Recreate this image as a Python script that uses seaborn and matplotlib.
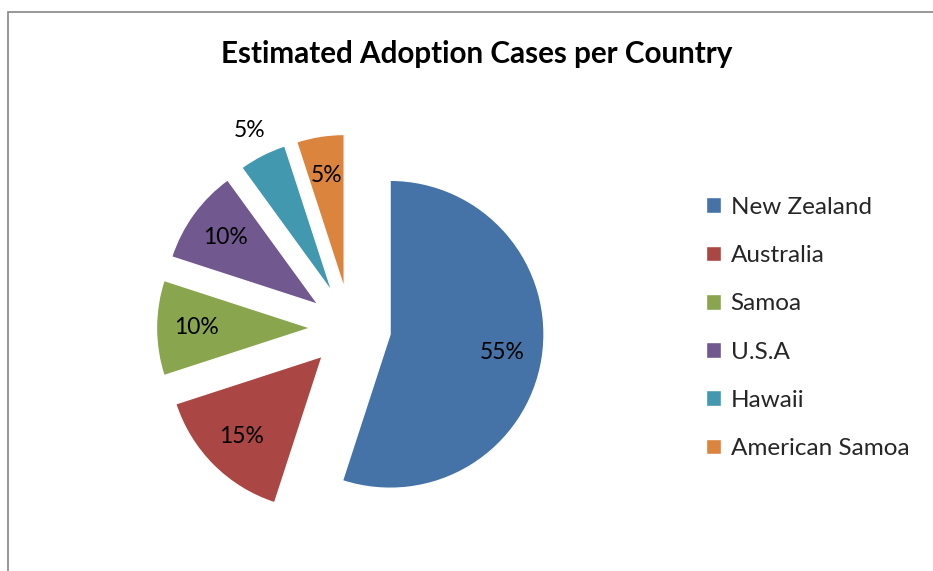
import matplotlib.pyplot as plt
from matplotlib.patches import Rectangle
import seaborn as sns
import numpy as np

# Data
countries = ["New Zealand", "Australia", "Samoa", "U.S.A", "Hawaii", "American Samoa"]
shares = [55, 15, 10, 10, 5, 5]
slice_colors = ["#4572A7", "#AA4643", "#89A54E", "#71588F", "#4198AF", "#DB843D"]
title = "Estimated Adoption Cases per Country"

sns.set_theme(style="white")
plt.rcParams['font.family'] = ['Lato', 'DejaVu Sans']
palette = sns.color_palette(slice_colors)

W, H = 933, 571
fig = plt.figure(figsize=(W / 100, H / 100), dpi=100)
fig.patch.set_facecolor('white')

# pie placement in pixels
radius_px = 154
cx, cy = 350.5, H - 328
half = 240
ax = fig.add_axes([(cx - half) / W, (cy - half) / H, 2 * half / W, 2 * half / H])

pct_dist = 0.74
wedges, texts, autotexts = ax.pie(
    shares,
    colors=palette,
    explode=[0.26] * len(shares),
    startangle=90,
    counterclock=False,
    autopct='%1.0f%%',
    pctdistance=pct_dist,
    textprops={'fontsize': 16.5, 'color': 'black'},
)
ax.set_xlim(-half / radius_px, half / radius_px)
ax.set_ylim(-half / radius_px, half / radius_px)
ax.set_aspect('equal')

# small Hawaii slice: label sits outside
c = np.array(wedges[4].center)
p = np.array(autotexts[4].get_position())
autotexts[4].set_position(c + (p - c) * 1.18 / pct_dist)

fig.text(477 / W, 1 - 54 / H, title, ha='center', va='center',
         fontsize=21.3, fontweight='bold', color='black')

fig.legend(wedges, countries, loc='upper left',
           bbox_to_anchor=(684 / W, 1 - 175 / H), frameon=False,
           fontsize=17.5, handlelength=0.62, handleheight=0.62,
           handletextpad=0.4, labelspacing=1.12)

# chart border (gray, runs off right/bottom)
fig.patches.append(Rectangle((8 / W, -0.1), 1.2, (H - 12) / H + 0.1,
                             transform=fig.transFigure, fill=False,
                             edgecolor='#868686', linewidth=1.2))

plt.savefig("out.png", dpi=100, facecolor='white')
plt.close()
